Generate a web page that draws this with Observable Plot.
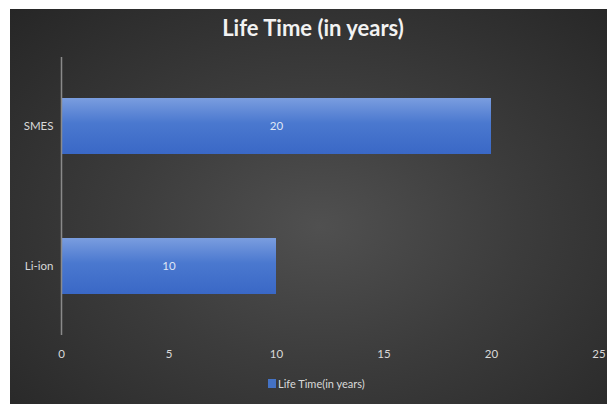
<!DOCTYPE html>
<html><head><meta charset="utf-8">
<script src="https://cdn.jsdelivr.net/npm/d3@7"></script>
<script src="https://cdn.jsdelivr.net/npm/@observablehq/plot@0.6"></script>
<style>
html,body{margin:0;padding:0;background:#fff;}
#wrap{position:relative;width:607px;height:405px;overflow:hidden;font-family:Lato,"Open Sans",sans-serif;}
#bg{position:absolute;left:10px;top:9px;width:597px;height:395px;
 background:radial-gradient(ellipse at 52% 55%, #505050 0%, #3c3c3c 45%, #262626 100%);}
#title{position:absolute;left:0;top:14px;width:626px;text-align:center;color:#f2f2f2;font-weight:bold;font-size:22px;}
#chart{position:absolute;left:0;top:0;}
#legend{position:absolute;top:377px;left:268px;color:#d9d9d9;font-size:11px;display:flex;align-items:center;}
#legend span.sw{display:inline-block;width:8px;height:9px;background:#4472c4;margin-right:2px;}
</style></head>
<body><div id="wrap"><div id="bg"></div><div id="title">Life Time (in years)</div><div id="chart"></div>
<div id="legend"><span class="sw"></span>Life Time(in years)</div></div>
<script>
const categories = ["SMES", "Li-ion"];
const values = [20, 10];
const xTicks = [0, 5, 10, 15, 20, 25];

const data = categories.map((c, i) => ({cat: c, v: values[i]}));

const plot = Plot.plot({
  width: 607, height: 405,
  marginLeft: 61, marginRight: 8.5, marginTop: 57, marginBottom: 70,
  style: {background: "transparent", color: "#d9d9d9", fontSize: "11.5px", fontFamily: "Lato, 'Open Sans', sans-serif"},
  x: {domain: [0, 25], ticks: xTicks, tickSize: 0, tickPadding: 14, label: null},
  y: {domain: categories, paddingInner: 0.6, paddingOuter: 0.29, tickSize: 0, tickPadding: 8, label: null},
  marks: [
    Plot.barX(data, {x: "v", y: "cat", fill: "url(#barGrad)"}),
    Plot.ruleX([0], {stroke: "#8a8a8a", strokeWidth: 1.5}),
    Plot.text(data, {x: d => d.v / 2, y: "cat", text: d => String(d.v), fill: "#dfe6f5", fontSize: 11.5})
  ]
});
const ns = "http://www.w3.org/2000/svg";
const defs = document.createElementNS(ns, "defs");
defs.innerHTML = '<linearGradient id="barGrad" x1="0" y1="0" x2="0" y2="1"><stop offset="0" stop-color="#7a9ddf"/><stop offset="0.45" stop-color="#4a78cf"/><stop offset="1" stop-color="#3a68c6"/></linearGradient>';
plot.insertBefore(defs, plot.firstChild);
document.getElementById("chart").appendChild(plot);
</script></body></html>
